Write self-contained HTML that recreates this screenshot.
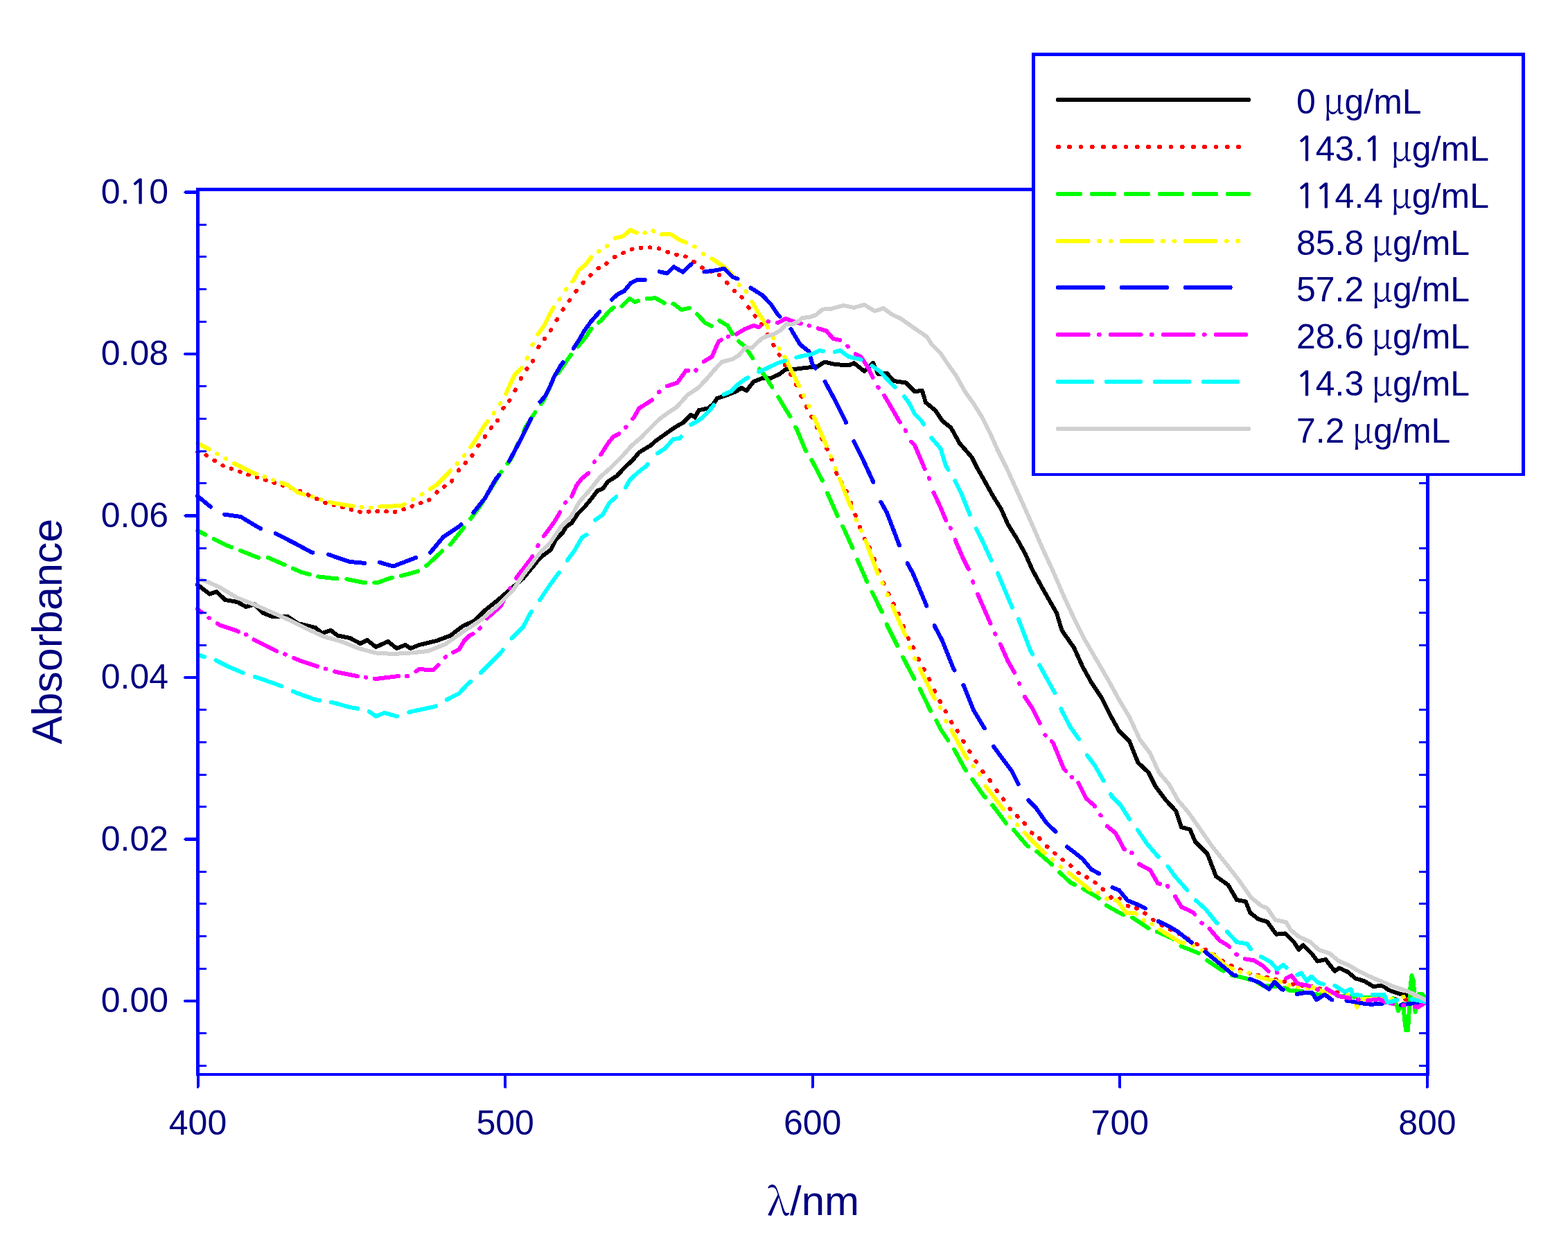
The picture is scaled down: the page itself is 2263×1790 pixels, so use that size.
<!DOCTYPE html><html><head><meta charset="utf-8"><title>Absorbance spectra</title><style>html,body{margin:0;padding:0;background:#fff;}svg{display:block;}text{font-family:"Liberation Sans",Arial,sans-serif;font-kerning:none;}</style></head><body>
<svg xmlns="http://www.w3.org/2000/svg" width="2263" height="1790" viewBox="0 0 2263 1790">
<rect width="2263" height="1790" fill="#fff"/>
<g fill="none" stroke-width="6" stroke-linecap="round" stroke-linejoin="round" shape-rendering="crispEdges">
<path d="M285 844L302.5 857.5L312.5 854L325 866L342.5 869L355 876L367.5 872.5L380 885L392.5 890L415 890L430 900L455 906L465 914L477.5 910L487.5 917.5L505 921L520 929L530 924L542.5 934L560 926L572.5 936L585 931L592.5 936L605 931L630 925L650 917.5L667.5 904L685 896L700 881L720 865L737.5 850L755 835L780 804.8L795 793.6L802.5 778.6L811.8 769.2L817.5 759.9L825 755.2L834.3 741.1L843.7 731.8L853.1 720.5L862.4 708.3L869.9 705.5L877.4 695.2L890.5 686.8L901.8 674.6L913 664.3L922.4 653.1L939.2 642.8L946.7 636.2L959.9 626.8L973 617.5L986.1 610L997.3 598.7L1003 602.5L1008.6 592.2L1021.7 589.4L1029.2 583.7L1035 575L1050 570L1062.5 565L1070 560L1077.5 564L1087.5 551L1100 546L1112.5 546L1125 540L1135 532.5L1150 532.5L1162.5 531L1180 529L1190 522.5L1205 526L1225 527.5L1232.5 524L1247.5 536L1260 524L1267.5 540L1280 539L1290 550L1307.5 552.5L1320 565L1331 564L1336 581L1350 592.5L1360 607.5L1372.5 617.5L1385 640L1402.5 660L1410 675L1420 692.5L1432.5 715L1445 735L1455 757.5L1467.5 777.5L1480 800L1490 822.5L1505 850L1525 885L1532.5 910L1550 935L1562.5 962.5L1575 985L1590 1007.5L1602.5 1032.5L1615 1055L1630 1070L1642.5 1101L1657.5 1115L1667.5 1135L1682.5 1155L1697.5 1171L1705 1194L1717.5 1197.5L1725 1215L1742.5 1232.5L1755 1265L1772.5 1277.5L1785 1299L1797.8 1301.4L1804.3 1317.6L1815.9 1326.7L1828.9 1330.6L1841.9 1348.7L1854.8 1347.4L1867.8 1360.4L1874.3 1370.8L1880.8 1364.3L1893.7 1377.3L1901.5 1387.6L1913.2 1385L1926.2 1401.9L1932.7 1397.4L1945.6 1403.2L1956 1412.3L1969 1416.2L1981.9 1424L1994.9 1422.7L2004 1429.1L2020.8 1435L2031.2 1436.9L2048 1437L2058 1441" stroke="#000000"/>
<path d="M285.2 652.1L286 652.4M297.5 657L297.5 657L298.2 657.5M309.4 664.6L310.1 665M321.3 672.1L322 672.4M333.6 676.5L334.3 676.7M345.9 680.9L346.6 681.1M358.2 685.2L358.9 685.4M370.6 689.1L371.3 689.3M383 693L383.7 693.2M395.4 696.9L396.2 697.1M407.8 700.7L408.6 700.9M420.2 704.5L421 704.7M432.6 708.7L433.3 709M444.7 714.3L445.5 714.7M456.9 720L457.7 720.3M469.1 725.6L469.9 725.9M481.6 729L482.4 729.2M494.1 732.3L494.9 732.5M506.6 735.5L507.4 735.7M519.1 738.8L519.9 739M531.7 738.6L532.5 738.5M544.4 738.1L545.2 738.1M557.1 738.4L557.8 738.4M569.7 738.9L570.5 738.9M582.2 735.3L582.9 735.1M594.6 730.7L595.3 730.4M606.8 726.2L607.5 725.9M618.9 721.8L619.6 721.5M630.2 710.9L630.9 710.1M641.1 702.5L641.7 702M651.9 694.5L652.5 694L652.5 693.9M661.7 679.2L662.3 678.5M671.5 668.5L672.1 667.8M681.2 657.7L681.7 656.9M690.4 643.4L691 642.7M699.6 630.7L700.1 629.9M708.8 617.9L709 617.6L709.3 617.2M717.7 607.3L718.2 606.7M726.3 589.5L726.8 588.8M735 578.5L735.5 577.8M743.4 563.6L743.9 562.6M751.7 546.7L752.1 545.8L752.2 545.6M760.2 532.8L760.7 532M768.7 521.5L769.2 520.8M777.1 501.2L777.6 500.5M785.7 489.4L786.2 488.7M794.7 476.9L795.2 476.2M803.5 462L804.1 461.1M812.4 447.1L813 446.2M821.6 434.1L822.2 433.3M831.3 420.6L831.8 419.9L831.9 419.8M841.4 408.4L842.1 407.7M852 397.7L852.7 397M863.3 387.2L864.1 387M875.1 380.8L875.8 380M887 371L887.7 370.7M899.2 365.3L900 364.9M911.8 359.8L912.6 359.6M924.7 357.7L925.5 357.7M937.7 357.2L938.5 357.3M950.7 358.5L951.4 358.8M963.4 363.8L964.2 364.1M976.2 367.6L977 367.8M988.9 370.3L989.7 370.5M1001.1 377.6L1001.9 378.1M1013.2 386.2L1014 386.7M1025.4 391.8L1026.2 392.2M1037.7 396.9L1038.4 397.3M1049 407.9L1049.6 408.6M1059.7 419.7L1060 420L1060.4 420.3M1070.2 428.9L1070.8 429.5M1080.1 443.5L1080.7 444.4M1089.6 455.8L1090.2 456.5M1098.9 467.6L1099.5 468.4M1107.7 482.9L1108.2 483.8M1116.1 497.7L1116.6 498.6M1124.5 511.7L1125 512.5L1125 512.5M1132.8 526.5L1133.3 527.4M1141 540L1141.5 540.9M1148.8 554.7L1149 555L1149.3 555.7M1156.3 571.7L1156.8 572.6M1163.8 587L1164 587.5L1164.2 587.9M1171.3 601.6L1171.7 602.5M1178.7 616.5L1179.2 617.4M1186.1 632.8L1186.5 633.8M1193.2 647.5L1193.7 648.4M1200.2 662.4L1200.6 663.4M1207.1 682.6L1207.5 684M1214.2 696L1214.6 696.8M1221.2 708.7L1221.7 709.5M1227.9 725.7L1228.3 726.8M1234.4 743.5L1234.9 744.6M1240.9 760.8L1241 761L1241.3 761.9M1247.7 777.9L1248.1 778.6M1254.8 790.3L1255.2 791.1M1261.7 807L1262.1 808.1M1268.4 823.6L1268.9 824.6M1275.2 841.4L1275.6 842.4M1282.2 856.9L1282.5 857.5L1282.6 857.8M1289.5 871.4L1289.9 872.3M1296.7 885.8L1297.1 886.7M1303.6 903.6L1304 904.5L1304.1 904.7M1310.7 921.3L1311.2 922.1M1318.1 934.3L1318.5 935.2M1325.6 951.1L1326 952L1326.1 952.2M1333.3 965.7L1333.8 966.6M1341 980.2L1341.5 981.1M1348.7 996.9L1349 997.5L1349.2 997.9M1356.5 1012.1L1357 1013.1M1364.6 1026.6L1365.1 1027.4M1373 1042.1L1373.5 1043.1M1381.6 1054.7L1382.1 1055.5M1390.3 1069.7L1390.8 1070.7M1399.1 1084.4L1399.6 1085.3M1408.5 1098.8L1409.1 1099.6M1418.3 1113.5L1418.9 1114.4M1428.4 1126.2L1429 1127M1438.4 1141L1439 1142M1447.9 1153.5L1448.4 1154.4M1457.6 1167.6L1458.3 1168.3M1467.9 1177.9L1468.6 1178.6M1478.4 1188.4L1479 1189L1479 1189M1488.9 1202.3L1489.6 1202.7M1499.9 1210L1500.6 1210.7M1510.9 1221.8L1511.6 1222.4M1522 1231.7L1522.7 1232.2M1533.4 1240.9L1534.1 1241.4M1544.9 1249.4L1545.6 1250.1M1556.4 1260L1557.1 1260.4M1568.3 1266.2L1569.1 1266.7M1580.2 1273.8L1580.5 1274L1580.9 1274.3M1591.6 1283.6L1592 1284L1592.3 1284.3M1603.2 1295.2L1603.9 1295.9M1615.5 1297.3L1616.2 1297.4M1627.7 1307.6L1628.5 1307.8M1640 1311L1640.8 1311.5M1652.2 1318.2L1652.9 1318.7M1664 1327.6L1664.5 1328L1664.8 1328.2M1676.4 1335.3L1677.2 1335.8M1689.1 1341.9L1689.9 1342.2M1701.9 1348L1702.7 1348.4M1714.5 1355.1L1715.3 1355.6M1727 1362.8L1727.8 1363.3M1739.5 1370.7L1740 1371L1740.2 1371.1M1751.9 1378.2L1752.6 1378.7M1764.3 1387L1765.1 1387.4M1776.9 1393.7L1777.5 1394L1777.7 1394.1M1789.8 1399.5L1790.6 1399.8M1802.9 1404.6L1803.7 1404.9M1815.5 1407.7L1816.3 1407.8M1828.2 1410.6L1829 1410.8M1840.8 1413.8L1841.6 1414M1853.5 1417.1L1854.2 1417.3M1866.1 1420.7L1866.9 1420.9M1878.8 1422.9L1879.6 1423M1891.6 1423.8L1892.4 1423.8M1904.3 1427.1L1905.1 1427.3M1917 1429.9L1917.8 1430M1929.7 1432.4L1930.5 1432.6M1942.4 1435.4L1943.2 1435.6M1955.1 1438.6L1955.8 1438.8M1967.8 1440L1968.6 1440M1980.6 1440.6L1981.4 1440.6M1995.8 1441.3L1996.8 1441.3M2012.1 1441.9L2013.1 1441.9M2028.3 1442.8L2029.3 1442.9M2044.5 1443.9L2045.5 1443.9" stroke="#FF0000"/>
<path d="M285 766L295 771L296.4 771.7M308.9 778.1L327.5 787.5L333.9 789.9M346.9 794.7L372.5 805L373.3 804.9M386.7 804.8L410 815L410.8 815.3M422.8 820.6L435 826L446.8 829.1M459 832.3L460 832.5L482.5 835L486.5 835.2M500.4 836.1L525 841L527 841M540.4 841L545 841L565 834L566 833.8M578.9 831.2L580 831L602.5 825L603.3 824.5M615 816.7L617.5 815L637.5 796L638.2 795.5M649.6 786.3L650 786L667.5 764L669.5 761.4M679.1 748.9L695 727.5L697.5 723.4M706.3 708.9L722.5 682.5L723.6 681M732.4 669.3L737.5 662.5L748.2 639.3M755.9 622.6L758.7 616.6L771.8 596L772.3 595.2M780.9 583L784.9 577.3L796.2 552.9L797.3 551.3M805.8 538.5L807.4 536.1L824 512.1M833.8 500.5L844.9 487.4L853.4 474.5M863.9 465.7L867.4 463L878.6 449.9L885.5 443.8M897.5 442.2L908.6 431.1L916.1 435.8L921.3 434.3M933.6 431.1L946 430.2L958.8 437.5M971.4 438.5L972.3 438.6L983.5 447.1L994.9 444.7M1005.9 453.5L1007.5 455L1017.5 466L1026.9 470.7M1038.2 462.9L1050 470L1057.4 482.4M1066.3 492.6L1067.5 494L1075 500L1086.4 517.3M1096 532.5L1096 532.5L1105 544L1114.4 559M1123.3 573.3L1125 576L1140.4 601.4M1148.3 616.7L1150 620L1162.5 650L1163.4 651.4M1171.4 664.2L1172.5 666L1186.8 693.7M1194.1 711.9L1208.8 745L1208.8 745M1216.3 759.7L1230 790L1230.5 791.2M1237.4 808.2L1251 839L1251.3 839.6M1258.5 854.6L1272.7 883.3M1279.7 901.4L1295.1 932.2M1303.2 948.8L1319 979L1319.5 979.8M1327.7 994.5L1342.5 1025L1343.2 1026.2M1351.3 1040L1357.5 1052.5L1367.5 1067.5L1368.3 1068.6M1377.1 1081.8L1377.5 1082.5L1392.5 1110L1394.1 1112.3M1403.2 1125L1420 1149L1422.2 1151.4M1432.3 1162.3L1432.5 1162.5L1452.1 1188.5M1462.7 1197.7L1482.5 1221L1484.4 1222.1M1496.2 1229.2L1497.5 1230L1517.5 1247.5L1518.3 1248.3M1529.1 1259.1L1530 1260L1545 1274L1551.4 1277.1M1563.3 1283L1585 1296L1585.9 1296.9M1597 1307.1L1597.5 1307.5L1620 1320L1621.4 1320.5M1634.1 1324.7L1635 1325L1657.5 1340L1657.6 1340M1669.7 1344.9L1670 1345L1692.5 1355L1693.2 1355.6M1704.6 1365.7L1705 1366L1729.8 1375.9M1742 1386.3L1762.5 1400L1765.6 1401.6M1778 1407.6L1797.8 1412.3L1803.1 1414.2M1815.7 1418.7L1815.9 1418.8L1822.4 1422.7L1841 1424.3M1853.9 1426L1862.6 1430.4L1875.6 1430.4L1879.3 1431.1M1892.2 1433.7L1901.5 1435.6L1917.8 1435.6M1930.7 1437.6L1948.2 1437.6L1956 1439.5L1956.3 1439.5M1969.2 1439.5L1976.7 1439.5L1999.5 1442M2012.9 1445.6L2016 1452L2018 1459L2022 1452L2025 1449L2025.5 1454.8M2027.1 1471.1L2029 1487L2032 1487L2032.8 1473.5M2033.9 1457.2L2034 1455L2035.5 1425L2035.5 1424.7M2037.4 1408.4L2037.5 1408L2039.5 1414L2041 1430L2041.5 1439.7M2042.3 1456L2042.5 1461L2044 1445L2048 1435L2048.7 1434.9M2010.5 1440.8L2016 1452L2018 1459L2022 1452L2025 1449L2027 1470L2029 1487L2032 1487L2034 1455L2035.5 1425L2037.5 1408L2039.5 1414L2041 1430L2042.5 1461L2044 1445L2048 1435L2052 1434.5L2057.2 1439.5" stroke="#00FF00"/>
<path d="M285 640L300 647.5L301.9 648.6M313.1 654.9L313.8 655.3M325.5 661.8L326.2 662.2M337.6 668.7L340 670L365 682.5L370.1 684.3M381.5 688.3L382.2 688.5M394.1 692.7L394.8 692.9M406.4 697L415 700L430 711L438.9 713.7M450.4 717.1L451.1 717.3M463.1 720.9L463.8 721.1M475.5 724.7L480 726L505 730L509.8 730.6M521.8 732L522.6 732.1M535.1 732.6L535.9 732.5M548.2 731.5L555 731L580 730L583.9 727.8M595.7 721.2L596.5 720.7M608.6 713.7L609.4 713.2M620.7 705.9L630 700L645 685L650.1 679.5M659.5 669.5L660.2 668.8M669.8 658L670.3 657.2M679.2 645.3L685 637.5L698.7 614.8L703.9 608.1M712.6 596.8L713.1 595.9M721.8 582.9L722.3 582M730.1 568.6L736.2 554.8L743.7 539.8L752.1 532.3L752.8 531M760.5 517.4L760.6 517.3L761 516.3M768.4 497.8L768.9 496.9M776.3 482.4L784.9 470.5L792.4 455.5L798 445.2L798.9 443.9M807.2 432.4L807.4 432.1L807.8 431.5M816.8 418.1L816.8 418L817.3 417.3M826.2 406.2L828 404L835.5 389.9L844.9 382.4L853.3 371.4M863.8 363.1L864.5 362.6M875.7 355.4L875.8 355.3L876.4 354.7M887.4 343.7L899.2 341.2L909.5 331.9L917.9 335.6L918.9 335.7M930.2 336.2L930.9 336M942.5 333.3L943.3 333.7M954.8 338.4L968.5 338.4L979.8 345.9L990.1 350.2M1002 355.8L1002.5 356L1002.8 356.2M1014.7 366.4L1015.5 366.8M1027.2 373.4L1030 375L1045 385L1057.3 397.3M1066.5 411.4L1067 411.9M1076.4 420.6L1076.9 421.5M1085.4 435.7L1095 452.5L1107.5 471L1108.3 472.6M1115.9 487.3L1116.4 488.2M1124.3 502.7L1124.8 503.4M1132.5 515L1152.5 556L1153 557M1159.9 570.8L1160 571L1160.3 571.7M1167.4 585.8L1167.5 586L1167.9 586.8M1174.6 601.7L1175 602.5L1192.5 642.5L1192.9 643.5M1199 658.4L1199.4 659.4M1205.5 676.2L1205.9 677.3M1212 691.3L1212.5 692.5L1225 725L1229.4 733.9M1235.6 749.9L1236 751M1242.4 765.4L1242.8 766.3M1249 780.4L1250 782.5L1266 826L1266.9 827.8M1273.4 841.2L1273.8 842M1280.6 858.1L1281 859L1281.1 859.2M1287.8 874.7L1306.5 916.8M1312.9 934.9L1313.3 935.8M1320.2 950.4L1320.7 951.3M1327.7 965.5L1347.5 1006L1349.1 1008.7M1356.7 1021.2L1357.2 1022M1365.1 1040.7L1365.6 1041.5M1373.4 1054.2L1393.8 1092.5L1395.7 1094.9M1404.2 1105.6L1404.8 1106.3M1413.6 1117.3L1413.8 1117.5L1414.2 1118.3M1422.5 1135L1447.5 1167.5L1448 1168.1M1457.3 1179.8L1457.5 1180L1457.9 1180.4M1468 1190.3L1468.6 1190.9M1478.6 1202.3L1478.8 1202.5L1506 1230L1508.1 1231.7M1518.7 1240.2L1519.4 1240.9M1530.5 1251.3L1531.2 1251.8M1542.3 1259.8L1542.5 1260L1572.5 1284L1573.3 1284.3M1584.5 1288.8L1585 1289L1585.3 1289.2M1597.1 1297.2L1597.5 1297.5L1597.8 1297.6M1609.3 1299.5L1612.5 1300L1625 1317.5L1637.5 1317.5L1639.9 1319.6M1650.5 1328.3L1651.3 1328.7M1662.3 1333.9L1662.5 1334L1663 1334.4M1674 1342L1702.5 1360L1708.9 1361.1M1721.4 1364.8L1722.2 1365.3M1734.9 1371.9L1735.7 1372.2M1748.1 1376.8L1750 1377.5L1770 1395L1778.7 1398.7M1789.7 1402.8L1790.5 1402.9M1802.2 1404.4L1802.9 1404.5M1814.4 1409.1L1815.9 1409.7L1832.8 1414.9L1848.3 1417.5M1860 1422.2L1860.7 1422.5M1873 1425L1873.8 1425.1M1885.9 1426L1893.7 1425.2L1906.7 1430.4L1919.7 1434.3L1919.9 1434.3M1931.8 1436.7L1932.5 1436.9M1944.7 1436L1945.5 1436M1957.3 1450.7L1958.6 1453.8L1965.1 1442.1L1984.5 1442.1L1993.5 1442.1M2008.6 1442.1L2009.6 1442.1M2025 1439.2L2026 1439M2041 1440.8L2057.2 1444.7" stroke="#FFFF00"/>
<path d="M285 716L304.1 731.7M324.1 742.7L347.5 746L375 762.5L376.1 762.9M397.8 770.1L425 784L450 797.5L451.2 797.6M474.1 800.5L505 811L526.2 812.9M548 811.9L567.5 817.5L597.5 806L600.2 805.1M621.1 797.7L640 775L662.5 760L665.5 757.2M683.2 740L700 719L715 692.5L720 686M734.8 665.8L750 637.5L760.6 616.6L766.3 604.5M779.5 580.2L786.8 571.7L794.3 556.7L799.9 543.6L809.3 527.6L812.7 523.1M827.7 502.8L835.5 491.1L843 478L852.4 464.9L865.2 450.2M882.9 432.5L891.7 424.6L901.1 419.9L910.4 408.7L919.8 404L930.7 404M951.6 392.2L962.9 394.6L972.3 385.2L985.4 392.7L997.5 381.5M1016.5 392.3L1035 390L1045 387.5L1057.5 400L1064.6 402.4M1083.5 415.6L1100 426L1112.5 439L1122.5 454L1125.5 457.2M1141.5 475L1155 497.5L1167.5 507.5L1172.5 526L1176.9 531.6M1190.6 550.8L1205 577.5L1220 607.5L1220.9 609.8M1232.4 637.3L1245 662.5L1260 695L1260.3 695.9M1271.4 724.7L1280 740L1297.5 786L1298.1 787.4M1309.6 813L1310 814L1317.5 827.5L1337.4 874.7M1348.6 903L1349 904L1360 925L1376 965L1377.5 967.6M1390.4 989L1391 990L1405 1025L1420 1050L1420.7 1051.3M1434.3 1077.6L1435 1079L1447.5 1096L1460 1112.5L1469.7 1131.9M1484.5 1155.1L1485 1156L1495 1166L1510 1187.5L1523.4 1200.5M1540 1222.5L1550 1230L1562.5 1240L1575 1255L1586 1261L1586.2 1261.2M1605.5 1281.2L1615 1285L1627.5 1300L1640 1305L1652.5 1311L1652.8 1311.3M1671.9 1329.9L1687.5 1337.5L1700 1345L1717.5 1359L1719.9 1360.6M1739.4 1374L1750 1382.5L1765 1395L1780 1407.5L1783.9 1408.4M1803.8 1413.4L1815.9 1417.5L1831.5 1427.8L1839.3 1417.5L1849.7 1427.8L1851.8 1428.7M1871.7 1435L1883.4 1433L1893.7 1433L1900.2 1443.4L1911.9 1435.6L1922.3 1443.4L1922.4 1443.4M1943.5 1444.6L1945.6 1444.7L1967.7 1448.6L1979.3 1449.9L1992.3 1448.6L1995.3 1448.6M2021.8 1450.7L2036.4 1448.6L2057.2 1447.3" stroke="#0000FF"/>
<path d="M285 879L290.8 883.9M301.5 891.8L302.2 892.3M313.7 900L317.5 902.5L340 910L344.3 911.7M354.8 915.9L355 916L355.5 916.3M366.5 923.4L367.5 924L397.5 939L399.4 939.8M411 944.4L411.7 944.7M424.1 950L430 952.5L455 961L457.9 961.9M469.6 965.4L470.4 965.6M482.9 969.4L485 970L515 976L516 976.2M527.6 977.8L528.3 977.9M540.6 979.7L542.5 980L575 976L575.2 976M587.1 976L587.9 976M600.2 969.2L605 966L625 967.5L632.6 959.9M642.6 948.7L643.3 948M654.1 941.6L662.5 937.5L670 925L677.5 917.5L682.5 914.9M692.3 907.4L692.9 906.4M702.7 892.6L722.5 875L728.3 864.2M736 849.7L736.5 848.8M744.8 834.5L767.5 805L768.4 803.2M776.1 788.2L776.6 787.2M784.9 773.9L791.2 765.5L800.6 752.4L806.2 743L808 739.4M815.9 725.8L816.4 725.3M825.1 716.6L832.5 699.9L840 690.5L849.3 683M857.7 667.1L858.2 666.4M867.1 656L868.1 654.9L877.4 640L884.9 630.6L892.4 626.8L893.4 625.9M903.1 617L903.7 616.5L903.7 616.4M913.3 604.5L914.9 602.5L922.4 589.4L941 577.5M950.9 566.1L951 566L951.6 565.6M962.7 557.4L977.5 552.5L990 535L993.1 535M1004.1 534.9L1004.8 534.1M1015.8 522L1027.5 515L1035 497.5L1037.5 492.5L1041.1 490.6M1050.7 485.8L1051.4 485.6M1062.7 482.4L1075 475L1087.5 470L1095 472.5L1096.5 471.4M1108.4 464.1L1109.2 464.2M1121.9 465.9L1122.5 466L1134 460L1147.5 465L1155.9 467.1M1167.5 470L1168.3 470.2M1180.6 474.2L1192.5 477.5L1202.5 489L1212.5 491L1212.5 491M1223.1 499.7L1223.8 500.5M1234.7 511.1L1242.5 515L1252.5 530L1259.6 544.7M1267.2 558.9L1267.8 559.6M1276.2 571L1287.5 590L1297.5 607.5L1298.8 609.5M1306.6 621.1L1307.1 621.9M1315.2 637.7L1320 642.5L1327.5 660L1334.7 676.9M1340.7 690.1L1341.1 691M1347.4 710.8L1347.5 711L1357.5 732.5L1365.2 751M1371.6 762L1372 762.7M1378.8 779.3L1380 783L1390 806L1397.7 821.5M1404.1 839.4L1404.5 840.8M1411.1 857.8L1429.5 900M1436.2 914.6L1436.6 915.5M1443.8 930.1L1445 932.5L1455 955L1464 970.8M1470.9 986.4L1471.4 987.4M1478.9 1005.7L1479 1006L1490 1022.5L1500 1042.5L1500.7 1044.1M1508.5 1061L1509 1061.5M1517.6 1070.1L1520 1072.5L1535 1109L1538.3 1113.1M1546.5 1121.7L1547.1 1122.1M1556.3 1130.1L1567.5 1152.5L1579 1162.5L1580.1 1164.2M1588.3 1176.5L1588.9 1177.3M1597.7 1192.6L1610 1202.5L1622.5 1226L1623.4 1226.4M1633.1 1231.1L1633.7 1231.4M1644 1247.5L1660 1256L1671 1275L1674 1275.9M1684.9 1279L1685 1279L1685.5 1279.7M1696 1294.1L1705 1309L1722.5 1317.5L1724.4 1320.1M1734.3 1332.3L1735 1332.8M1745.5 1340.6L1760 1357.5L1772.5 1365L1774.1 1366.9M1784.3 1377.5L1785 1378M1796.7 1384.3L1809.5 1386.3L1822.4 1394.1L1830.6 1402.3M1842.5 1403.8L1843.2 1403.8L1843.3 1403.9M1856.1 1412.3L1863.9 1408.4L1873 1420.1L1887.3 1422.7L1889.5 1423.6M1901.3 1428.2L1902 1428.6M1914.6 1427.3L1932.7 1438.2L1948.3 1440.8M1960.1 1442.8L1960.9 1442.9M1973.6 1444.4L1991 1442.1L1997.5 1446L2010.4 1449M2025.3 1451.2L2026.3 1451.3M2042.3 1453.2L2046.8 1453.8L2057.2 1447.3" stroke="#FF00FF"/>
<path d="M287.5 946L295.4 948.3M311.6 953.3L330 962.5L350 971L350.8 971.3M367.6 976.9L380 981L405 990L406.4 990.6M422.7 997.8L430 1001L455 1010L461.2 1011M477.9 1013.7L480 1014L505 1021L516.4 1022.8M532.9 1027.1L542.5 1034L555 1029L572.5 1034L573.2 1033.8M590.3 1028.2L592.5 1027.5L627.5 1020L628.8 1019.2M644.7 1010.2L645 1010L662.5 1001L675 987.5L679.5 983.7M693.7 971.3L705 960L722.5 942.5L725.6 938.4M738.6 921.4L755 905L765 886L767.3 882.7M778.9 866.3L780 864.8L791.2 847.9L806.2 827.3L806.7 826.5M818.6 808.9L828.7 795.5L840 775.8L846.5 772L846.5 772M859 750.8L869.9 743L879.3 726.1L887.7 718.6L889.4 717M902.8 703.7L909.3 692.4L920.5 682.1L932.7 672.7L934.7 670M948.7 654.4L959.9 647.4L971.1 634.3L981.4 632.5L983 630.2M997.2 612.9L1003 610L1014.2 602.5L1023.6 593.1L1030 585L1030.3 584.5M1044.4 569.5L1055 565L1065 555L1075 547.5L1079.6 544.9M1095.3 536.7L1105 532.5L1122.5 524L1132.9 520.6M1149.3 515.9L1157.5 514L1172.5 511L1182.5 506L1187.9 506.9M1204.6 507.9L1212.5 506L1225 515L1242.5 519L1242.7 519.1M1258.5 528.2L1270 536L1285 552.5L1291.7 558.8M1305 572.4L1312.5 582.5L1320 597.5L1330 607.5L1332.8 612.6M1344.4 632.2L1357.5 647.5L1365 672.5L1368.5 678.1M1378.3 694L1387.5 712.5L1397.5 737.5L1399.7 742.7M1408.8 763.4L1417.5 780L1430 807.5L1430.7 809M1440 827.5L1440 827.5L1460 875L1460.9 876.8M1469.9 893.9L1470 894L1487.5 940L1490.3 944.5M1500.2 960.3L1522.4 1000.3M1531.4 1022.9L1532.5 1026L1545 1050L1557.3 1067M1568.9 1090.3L1580 1105L1592.7 1127.2M1603.1 1146.4L1605 1150L1617.5 1162.5L1630 1182.5L1630.2 1182.7M1641.8 1198.1L1642.5 1199L1655 1217.5L1670 1235L1671.9 1236.9M1685.5 1250.7L1695 1264L1710 1281L1713.4 1285.1M1725.7 1299.6L1740 1312.5L1755 1331L1756.9 1332.7M1770.7 1344.7L1785 1360L1800 1362.5L1805 1370L1805.3 1370.2M1820.1 1381L1834.1 1388.9L1843.2 1399.3L1852.2 1392.8L1856.6 1396.7M1872.4 1407.4L1878.2 1404.5L1886 1416.2L1892.5 1409.7L1902.8 1418.8L1910 1420.8M1926.3 1422.7L1940.4 1431.7L1949.5 1427.8L1952.1 1435.6L1964.2 1436.8M1980.7 1435.9L1984.5 1435.6L1997.5 1435.6L2002.7 1447.3L2016.4 1443.5M2037 1442.2L2049.4 1444.7L2057.2 1446" stroke="#00FFFF"/>
<path d="M285 835L300 840L317.5 848L342.5 863L367.5 873L392.5 884L417.5 895L442.5 907.5L467.5 919L492.5 926L517.5 936L542.5 942.5L567.5 944L592.5 942.5L617.5 940L642.5 930L667.5 912.5L692.5 896L717.5 875L740 852.5L755 830L780 797.3L795 782.3L810 759.9L825 744.9L836.2 724.3L851.2 707.4L866.2 688.7L883 673.7L898 658.7L911.1 643.7L924.3 632.5L939.2 617.5L952.4 604.4L965.5 595L976.7 587.5L992.5 570L1007.5 560L1020 547L1030.8 534.2L1041.7 522.5L1057.5 518.3L1066.7 512.5L1076.7 500.8L1085 502.5L1092.5 495L1100 488.3L1107.5 485L1116.7 482.5L1126.7 476.7L1135 467.5L1143.3 468.3L1153.3 463.3L1157.5 459.2L1170 457.5L1178.3 454.2L1186.7 446.7L1199.2 445.8L1217.5 441L1232.5 444L1247.5 440L1262.5 449L1275 445L1287.5 454L1300 460L1320 474L1337.5 486L1345 497.5L1357.5 510L1367.5 525L1380 542.5L1392.5 565L1405 582.5L1417.5 602.5L1430 627.5L1440 650L1452.5 675L1465 702.5L1477.5 730L1490 758L1505 792.5L1520 825L1535 860L1550 892.5L1565 922.5L1582.5 952.5L1600 982.5L1615 1010L1630 1035L1645 1067.5L1660 1087.5L1672.5 1115L1687.5 1132.5L1700 1155L1715 1172.5L1732.5 1197.5L1750 1222.5L1770 1247.5L1787.5 1270L1805.6 1295.6L1819.8 1307.2L1828.9 1311.1L1840.6 1328L1856.1 1331.2L1862.6 1342.2L1874.3 1352L1891.2 1359.8L1902.8 1370.8L1918.4 1376L1932.7 1387.6L1945.6 1392.8L1958.6 1400.6L1974.2 1408.4L1992.3 1416.2L2010.5 1424L2029.9 1430.4L2044.2 1436.9L2059.7 1444.7" stroke="#D0D0D0"/>
</g>
<g stroke="#0000FF" fill="none" shape-rendering="crispEdges">
<path stroke-width="5" d="M285.5 271V1553M283 273.5H2063M2060.5 271V1553"/>
<path stroke-width="4" d="M283 1551H2063"/>
</g>
<g stroke="#0000FF" stroke-width="4.5" fill="none" stroke-linecap="round" shape-rendering="crispEdges">
<line x1="267.5" y1="1445.0" x2="285" y2="1445.0"/>
<line x1="267.5" y1="1211.5" x2="285" y2="1211.5"/>
<line x1="267.5" y1="978.0" x2="285" y2="978.0"/>
<line x1="267.5" y1="744.5" x2="285" y2="744.5"/>
<line x1="267.5" y1="511.0" x2="285" y2="511.0"/>
<line x1="267.5" y1="277.5" x2="285" y2="277.5"/>
</g>
<g stroke="#0000FF" stroke-width="4" fill="none" stroke-linecap="round" shape-rendering="crispEdges">
<line x1="285.5" y1="1551" x2="285.5" y2="1569"/>
<line x1="729.1" y1="1551" x2="729.1" y2="1569"/>
<line x1="1172.7" y1="1551" x2="1172.7" y2="1569"/>
<line x1="1616.3" y1="1551" x2="1616.3" y2="1569"/>
<line x1="2059.9" y1="1551" x2="2059.9" y2="1569"/>
</g>
<g stroke="#0000FF" stroke-width="3" fill="none" shape-rendering="crispEdges">
<line x1="288" y1="1538.4" x2="298" y2="1538.4"/>
<line x1="2048" y1="1538.4" x2="2058" y2="1538.4"/>
<line x1="288" y1="1491.7" x2="298" y2="1491.7"/>
<line x1="2048" y1="1491.7" x2="2058" y2="1491.7"/>
<line x1="288" y1="1398.3" x2="298" y2="1398.3"/>
<line x1="2048" y1="1398.3" x2="2058" y2="1398.3"/>
<line x1="288" y1="1351.6" x2="298" y2="1351.6"/>
<line x1="2048" y1="1351.6" x2="2058" y2="1351.6"/>
<line x1="288" y1="1304.9" x2="298" y2="1304.9"/>
<line x1="2048" y1="1304.9" x2="2058" y2="1304.9"/>
<line x1="288" y1="1258.2" x2="298" y2="1258.2"/>
<line x1="2048" y1="1258.2" x2="2058" y2="1258.2"/>
<line x1="288" y1="1164.8" x2="298" y2="1164.8"/>
<line x1="2048" y1="1164.8" x2="2058" y2="1164.8"/>
<line x1="288" y1="1118.1" x2="298" y2="1118.1"/>
<line x1="2048" y1="1118.1" x2="2058" y2="1118.1"/>
<line x1="288" y1="1071.4" x2="298" y2="1071.4"/>
<line x1="2048" y1="1071.4" x2="2058" y2="1071.4"/>
<line x1="288" y1="1024.7" x2="298" y2="1024.7"/>
<line x1="2048" y1="1024.7" x2="2058" y2="1024.7"/>
<line x1="288" y1="931.3" x2="298" y2="931.3"/>
<line x1="2048" y1="931.3" x2="2058" y2="931.3"/>
<line x1="288" y1="884.6" x2="298" y2="884.6"/>
<line x1="2048" y1="884.6" x2="2058" y2="884.6"/>
<line x1="288" y1="837.9" x2="298" y2="837.9"/>
<line x1="2048" y1="837.9" x2="2058" y2="837.9"/>
<line x1="288" y1="791.2" x2="298" y2="791.2"/>
<line x1="2048" y1="791.2" x2="2058" y2="791.2"/>
<line x1="288" y1="697.8" x2="298" y2="697.8"/>
<line x1="2048" y1="697.8" x2="2058" y2="697.8"/>
<line x1="288" y1="651.1" x2="298" y2="651.1"/>
<line x1="2048" y1="651.1" x2="2058" y2="651.1"/>
<line x1="288" y1="604.4" x2="298" y2="604.4"/>
<line x1="2048" y1="604.4" x2="2058" y2="604.4"/>
<line x1="288" y1="557.7" x2="298" y2="557.7"/>
<line x1="2048" y1="557.7" x2="2058" y2="557.7"/>
<line x1="288" y1="464.3" x2="298" y2="464.3"/>
<line x1="2048" y1="464.3" x2="2058" y2="464.3"/>
<line x1="288" y1="417.6" x2="298" y2="417.6"/>
<line x1="2048" y1="417.6" x2="2058" y2="417.6"/>
<line x1="288" y1="370.9" x2="298" y2="370.9"/>
<line x1="2048" y1="370.9" x2="2058" y2="370.9"/>
<line x1="288" y1="324.2" x2="298" y2="324.2"/>
<line x1="2048" y1="324.2" x2="2058" y2="324.2"/>
</g>
<g fill="#000080" font-size="50">
<text y="1461.2"><tspan x="145.69">0.00</tspan></text>
<text y="1227.7"><tspan x="145.69">0.02</tspan></text>
<text y="994.2"><tspan x="145.69">0.04</tspan></text>
<text y="760.7"><tspan x="145.69">0.06</tspan></text>
<text y="527.2"><tspan x="145.69">0.08</tspan></text>
<text y="293.7"><tspan x="145.69">0.</tspan><tspan x="186.38" font-family="NanumGothic,sans-serif" font-size="48" stroke="#000080" stroke-width="1">1</tspan><tspan x="215.19">0</tspan></text>
<text x="285.5" y="1638" text-anchor="middle">400</text>
<text x="729.1" y="1638" text-anchor="middle">500</text>
<text x="1172.7" y="1638" text-anchor="middle">600</text>
<text x="1616.3" y="1638" text-anchor="middle">700</text>
<text x="2059.9" y="1638" text-anchor="middle">800</text>
</g>
<text fill="#000080" font-size="61" transform="translate(89,911.5) rotate(-90)" text-anchor="middle">Absorbance</text>
<text fill="#000080" font-size="61" y="1753.5"><tspan x="1107" font-family="Noto Serif CJK SC,serif" font-size="55">λ</tspan><tspan x="1140" font-size="60">/nm</tspan></text>
<rect x="1491.5" y="78.5" width="707" height="606.5" fill="#fff" stroke="#0000FF" stroke-width="4.5" shape-rendering="crispEdges"/>
<g fill="none" stroke-width="6" stroke-linecap="round" shape-rendering="crispEdges">
<path d="M1527 144H1802" stroke="#000000"/>
<path d="M1527 212L1528 212M1543.2 212L1544.2 212M1559.5 212L1560.5 212M1575.8 212L1576.8 212M1592 212L1593 212M1608.2 212L1609.2 212M1624.5 212L1625.5 212M1640.8 212L1641.8 212M1657 212L1658 212M1673.2 212L1674.2 212M1689.5 212L1690.5 212M1705.8 212L1706.8 212M1722 212L1723 212M1738.2 212L1739.2 212M1754.5 212L1755.5 212M1770.8 212L1771.8 212M1787 212L1788 212" stroke="#FF0000"/>
<path d="M1527 280L1559.5 280M1575.9 280L1608.4 280M1624.8 280L1657.3 280M1673.7 280L1706.2 280M1722.6 280L1755.1 280M1771.5 280L1802 280" stroke="#00FF00"/>
<path d="M1527 348L1570.7 348M1585.8 348L1586.8 348M1602.5 348L1603.5 348M1618.9 348L1662.6 348M1677.7 348L1678.7 348M1694.4 348L1695.4 348M1710.8 348L1754.5 348M1769.6 348L1770.6 348M1786.3 348L1787.3 348" stroke="#FFFF00"/>
<path d="M1527 415L1592 415M1618.9 415L1683.9 415M1710.8 415L1775.8 415" stroke="#0000FF"/>
<path d="M1527 483L1570.7 483M1585.8 483L1586.8 483M1602.9 483L1646.6 483M1661.7 483L1662.7 483M1678.8 483L1722.5 483M1737.6 483L1738.6 483M1754.7 483L1798.4 483" stroke="#FF00FF"/>
<path d="M1527 551L1576 551M1597 551L1646 551M1667 551L1716 551M1737 551L1786 551" stroke="#00FFFF"/>
<path d="M1527 619H1802" stroke="#D0D0D0"/>
</g>
<g fill="#000080" font-size="50">
<text y="163.5"><tspan x="1871.00">0</tspan><tspan x="1898.81"> </tspan><tspan dx="-3.5" font-family="Noto Serif CJK SC,serif">µ</tspan>g/mL</text>
<text y="231.5"><tspan x="1870.00" font-family="NanumGothic,sans-serif" font-size="48" stroke="#000080" stroke-width="1">1</tspan><tspan x="1898.81">43.</tspan><tspan x="1967.31" font-family="NanumGothic,sans-serif" font-size="48" stroke="#000080" stroke-width="1">1</tspan><tspan x="1996.12"> </tspan><tspan dx="-3.5" font-family="Noto Serif CJK SC,serif">µ</tspan>g/mL</text>
<text y="299.5"><tspan x="1870.00" font-family="NanumGothic,sans-serif" font-size="48" stroke="#000080" stroke-width="1">1</tspan><tspan x="1897.81" font-family="NanumGothic,sans-serif" font-size="48" stroke="#000080" stroke-width="1">1</tspan><tspan x="1926.62">4.4</tspan><tspan x="1996.12"> </tspan><tspan dx="-3.5" font-family="Noto Serif CJK SC,serif">µ</tspan>g/mL</text>
<text y="367.5"><tspan x="1871.00">85.8</tspan><tspan x="1968.31"> </tspan><tspan dx="-3.5" font-family="Noto Serif CJK SC,serif">µ</tspan>g/mL</text>
<text y="434.5"><tspan x="1871.00">57.2</tspan><tspan x="1968.31"> </tspan><tspan dx="-3.5" font-family="Noto Serif CJK SC,serif">µ</tspan>g/mL</text>
<text y="502.5"><tspan x="1871.00">28.6</tspan><tspan x="1968.31"> </tspan><tspan dx="-3.5" font-family="Noto Serif CJK SC,serif">µ</tspan>g/mL</text>
<text y="570.5"><tspan x="1870.00" font-family="NanumGothic,sans-serif" font-size="48" stroke="#000080" stroke-width="1">1</tspan><tspan x="1898.81">4.3</tspan><tspan x="1968.31"> </tspan><tspan dx="-3.5" font-family="Noto Serif CJK SC,serif">µ</tspan>g/mL</text>
<text y="638.5"><tspan x="1871.00">7.2</tspan><tspan x="1940.51"> </tspan><tspan dx="-3.5" font-family="Noto Serif CJK SC,serif">µ</tspan>g/mL</text>
</g>
</svg></body></html>
